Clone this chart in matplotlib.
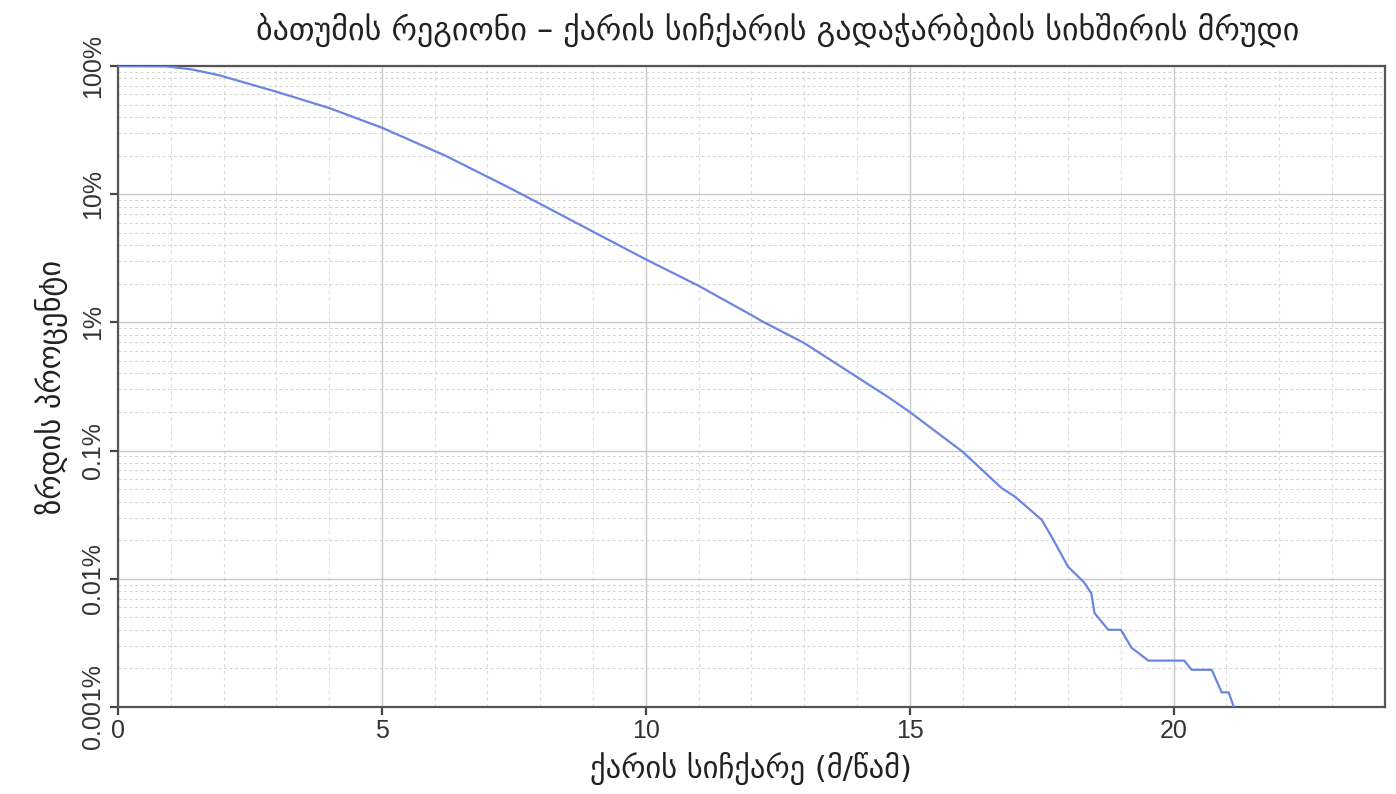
"""Wind speed exceedance curve, Batumi region."""

import matplotlib.pyplot as plt
from matplotlib.ticker import FixedLocator, LogLocator, NullFormatter

# exceedance curve (wind speed m/s -> % of time exceeded)
speed = [0.0, 0.9, 1.4, 1.9, 3.0, 4.0, 5.0, 6.2, 7.4, 8.0, 9.0, 10.0, 11.0,
         12.0, 12.24, 13.0, 14.0, 14.6, 15.0, 16.0, 16.74, 17.0, 17.5, 17.69,
         18.0, 18.3, 18.44, 18.5, 18.76, 19.0, 19.2, 19.52, 20.2, 20.34,
         20.72, 20.91, 21.04, 21.14]
exceed_pct = [100, 99.5, 94, 85, 63, 47, 33, 20, 11.3, 8.4, 5.1, 3.1, 1.93,
              1.14, 1.0, 0.69, 0.375, 0.26, 0.2, 0.098, 0.051, 0.0435,
              0.0288, 0.0212, 0.0124, 0.0094, 0.0077, 0.0054, 0.0040, 0.0040,
              0.0029, 0.0023, 0.0023, 0.00195, 0.00195, 0.0013, 0.0013, 0.001]

x_ticks = [0, 5, 10, 15, 20]
y_ticks = [0.001, 0.01, 0.1, 1, 10, 100]
y_tick_labels = ["0.001%", "0.01%", "0.1%", "1%", "10%", "100%"]

title = "ბათუმის რეგიონი – ქარის სიჩქარის გადაჭარბების სიხშირის მრუდი"
xlabel = "ქარის სიჩქარე (მ/წამ)"
ylabel = "ზრდის პროცენტი"

plt.rcParams["font.family"] = ["Liberation Sans", "DejaVu Sans"]

fig = plt.figure(figsize=(13.96, 7.94), dpi=100)
ax = fig.add_axes([0.0845, 0.1096, 0.9075, 0.8073])

ax.plot(speed, exceed_pct, color="#6a86e0", lw=1.6, zorder=3)

ax.set_yscale("log")
ax.set_xlim(0, 24)
ax.set_ylim(0.001, 100)

ax.xaxis.set_major_locator(FixedLocator(x_ticks))
ax.xaxis.set_minor_locator(FixedLocator(range(0, 25)))
ax.yaxis.set_major_locator(FixedLocator(y_ticks))
ax.yaxis.set_minor_locator(LogLocator(base=10, subs=range(2, 10)))
ax.yaxis.set_minor_formatter(NullFormatter())
ax.set_yticklabels(y_tick_labels, rotation=90, va="center")

ax.grid(True, which="major", color="#c8c8c8", lw=1.0, ls="-", zorder=0)
ax.grid(True, which="minor", axis="x", color="#dddddd", lw=0.8, ls=(0, (3, 3)), zorder=0)
ax.grid(True, which="minor", axis="y", color="#d2d2d2", lw=0.8, ls=(0, (2.5, 2.5)), zorder=0)

ax.tick_params(which="major", length=6, width=1.6, color="#444444",
               labelsize=18, labelcolor="#333333", pad=3)
ax.tick_params(which="minor", length=0)
for sp in ax.spines.values():
    sp.set_color("#555555")
    sp.set_linewidth(1.6)

ax.set_xlabel(xlabel, family="DejaVu Sans", fontsize=22, color="#222222", labelpad=6)
ax.set_ylabel(ylabel, family="DejaVu Sans", fontsize=22, color="#222222", labelpad=10)
fig.text(0.557, 0.962, title, family="DejaVu Sans", fontsize=23,
         color="#222222", ha="center", va="center")

fig.savefig("out.png", dpi=100)
